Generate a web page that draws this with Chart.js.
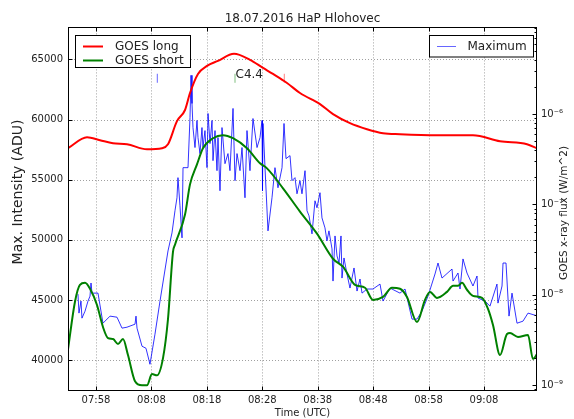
<!DOCTYPE html>
<html>
<head>
<meta charset="utf-8">
<script src="https://cdn.jsdelivr.net/npm/chart.js@4.4.0/dist/chart.umd.min.js"></script>
<style>
html,body{margin:0;padding:0;background:#fff;}
#wrap{width:574px;height:419px;position:relative;}
</style>
</head>
<body>
<div id="wrap"><canvas id="c" width="574" height="419"></canvas></div>
<script>
// All times are minutes after 07:00 UTC
const xTickValues = [58, 68, 78, 88, 98, 108, 118, 128];
const xTickLabels = ["07:58", "08:08", "08:18", "08:28", "08:38", "08:48", "08:58", "09:08"];
const leftTickValues = [40000, 45000, 50000, 55000, 60000, 65000];
const rightTickValues = [1e-9, 1e-8, 1e-7, 1e-6];
const rightTickLabels = ["10\u207B\u2079", "10\u207B\u2078", "10\u207B\u2077", "10\u207B\u2076"];

// GOES long (1-8 A) flux, W/m^2
const longTimes = [52.95, 56.38, 58.72, 61.07, 63.59, 67.20, 69.91, 70.99, 72.61, 74.06, 74.96, 76.40, 78.03, 80.01, 82.90, 85.78, 88.13, 89.93, 92.46, 94.80, 98.41, 100.76, 103.82, 106.89, 109.78, 112.84, 119.52, 126.01, 130.89, 135.76, 137.56];
const longFlux = [4.19e-7, 5.55e-7, 5.14e-7, 4.76e-7, 4.64e-7, 4.08e-7, 4.19e-7, 4.64e-7, 8.36e-7, 1.11e-6, 1.71e-6, 2.78e-6, 3.41e-6, 3.88e-6, 4.64e-6, 3.98e-6, 3.24e-6, 2.78e-6, 2.21e-6, 1.71e-6, 1.29e-6, 1.0e-6, 7.94e-7, 6.81e-7, 6.15e-7, 6.0e-7, 5.85e-7, 5.85e-7, 5.01e-7, 4.64e-7, 4.19e-7];

// GOES short (0.5-4 A) flux, W/m^2
const shortTimes = [52.95, 54.20, 55.10, 56.02, 56.92, 58.18, 59.26, 60.17, 61.07, 61.97, 62.87, 63.77, 65.04, 66.30, 67.20, 68.10, 69.01, 70.09, 70.99, 71.89, 72.25, 74.06, 74.96, 76.22, 77.30, 79.11, 80.91, 82.72, 85.24, 87.59, 88.85, 91.74, 94.80, 97.87, 100.76, 102.56, 104.73, 106.53, 107.97, 109.78, 111.40, 112.84, 114.10, 115.91, 117.35, 118.26, 119.52, 121.32, 122.41, 123.31, 124.03, 124.93, 126.01, 127.64, 128.72, 129.62, 130.89, 132.15, 132.69, 134.13, 135.94, 136.84, 137.56];
const shortFlux = [2.5e-9, 8.36e-9, 1.29e-8, 1.36e-8, 1.17e-8, 7.74e-9, 4.41e-9, 3.33e-9, 3.25e-9, 2.86e-9, 3.25e-9, 2.16e-9, 1.11e-9, 1.0e-9, 1.0e-9, 1.33e-9, 1.29e-9, 2.0e-9, 5.41e-9, 3.0e-8, 3.59e-8, 7.74e-8, 1.67e-7, 2.78e-7, 4.19e-7, 5.41e-7, 5.85e-7, 5.41e-7, 4.19e-7, 2.86e-7, 2.51e-7, 1.51e-7, 8.36e-8, 4.76e-8, 2.51e-8, 2.05e-8, 1.29e-8, 1.2e-8, 8.8e-9, 9.5e-9, 1.2e-8, 1.17e-8, 9.5e-9, 5.0e-9, 8.8e-9, 1.08e-8, 9.26e-9, 1.08e-8, 1.26e-8, 1.26e-8, 1.36e-8, 1.14e-8, 9.75e-9, 9.26e-9, 6.99e-9, 4.64e-9, 2.16e-9, 3.69e-9, 3.78e-9, 3.42e-9, 3.59e-9, 1.95e-9, 2.21e-9];

// Maximum intensity, ADU
const maxTimes = [54.75, 54.93, 55.29, 55.47, 56.02, 56.56, 56.92, 57.10, 57.28, 58.36, 59.26, 60.53, 61.79, 62.69, 63.59, 65.04, 65.22, 65.40, 66.30, 67.02, 67.74, 68.64, 69.55, 70.99, 71.71, 72.25, 72.61, 72.79, 73.15, 73.52, 73.70, 74.60, 74.96, 75.14, 75.32, 75.50, 75.86, 76.22, 76.40, 76.76, 77.12, 77.30, 77.66, 78.03, 78.21, 78.57, 78.93, 79.11, 79.47, 79.83, 80.01, 80.37, 80.73, 81.27, 81.81, 82.17, 82.72, 83.08, 83.44, 83.98, 84.34, 84.88, 85.24, 85.78, 86.32, 87.05, 87.59, 87.95, 88.04, 88.13, 88.49, 89.03, 89.75, 90.29, 90.83, 91.56, 91.92, 92.28, 93.00, 93.36, 93.90, 94.26, 94.80, 95.16, 95.71, 96.07, 96.43, 96.97, 97.51, 97.87, 98.41, 98.77, 99.31, 99.67, 100.03, 100.58, 100.76, 101.12, 101.48, 101.84, 102.20, 102.38, 102.74, 103.28, 103.82, 104.55, 105.09, 105.63, 105.99, 106.89, 107.97, 109.24, 109.78, 111.04, 112.84, 113.75, 115.01, 115.91, 116.81, 117.90, 119.16, 119.70, 120.42, 122.23, 122.41, 123.31, 123.67, 124.21, 124.93, 126.01, 126.74, 126.92, 128.18, 129.08, 130.34, 130.52, 131.25, 131.43, 131.97, 132.51, 133.05, 133.95, 135.03, 135.94, 137.74];
const maxValues = [45500, 43920, 44920, 43500, 44080, 44920, 45330, 46420, 45580, 45580, 43080, 43670, 43580, 42670, 42750, 43000, 43670, 42670, 41170, 41000, 39670, 42170, 44920, 49080, 50580, 52420, 53500, 55170, 52830, 50170, 56000, 56000, 60170, 63670, 61330, 59330, 57670, 59920, 58500, 57170, 59330, 57670, 59080, 56000, 60500, 58000, 59920, 56580, 59080, 55750, 58500, 54080, 59330, 56330, 57170, 55750, 60920, 54920, 57170, 55750, 57670, 53500, 59080, 55750, 60080, 57670, 58500, 59920, 54080, 59670, 56000, 50750, 53500, 56000, 54330, 56000, 59670, 56750, 57000, 54920, 55170, 53830, 54920, 53830, 55750, 52420, 52000, 50500, 53250, 52670, 53920, 51830, 51000, 49920, 50750, 49250, 46580, 50330, 48670, 48080, 50330, 46830, 48500, 47170, 46000, 47670, 45750, 46750, 45580, 45920, 45920, 46330, 44920, 46000, 45580, 45920, 43420, 43420, 44080, 45330, 47170, 48080, 46830, 47580, 46580, 47250, 45920, 48420, 47250, 46170, 47000, 45170, 44920, 44500, 46330, 44750, 46170, 48080, 48080, 43670, 45580, 43080, 43250, 43920, 43670];

// Flare: start, peak, end times and class
const flareTimes = [69.06, 83.08, 91.97];
const flareColors = ["rgba(0,0,255,0.6)", "rgba(0,128,0,0.5)", "rgba(255,0,0,0.5)"];
const flareLabel = "C4.4";
const markerRange = [63050, 63800];

const FONT = "DejaVu Sans";
const TXT = "#222";

function pts(t, v) { return t.map((tt, i) => ({x: tt, y: v[i]})); }

const datasets = [
  {label: "GOES long", data: pts(longTimes, longFlux), yAxisID: "y2", borderColor: "#ff0000", borderWidth: 2, pointRadius: 0, cubicInterpolationMode: "monotone", fill: false},
  {label: "GOES short", data: pts(shortTimes, shortFlux), yAxisID: "y2", borderColor: "#008000", borderWidth: 2, pointRadius: 0, cubicInterpolationMode: "monotone", fill: false}
];
flareTimes.forEach((t, i) => {
  datasets.push({label: "marker" + i, data: [{x: t, y: markerRange[0]}, {x: t, y: markerRange[1]}], yAxisID: "y", borderColor: flareColors[i], borderWidth: 1, pointRadius: 0, fill: false});
});
datasets.push({label: "Maximum", data: pts(maxTimes, maxValues), yAxisID: "y", borderColor: "rgba(0,0,255,0.8)", borderWidth: 1, pointRadius: 0, tension: 0, fill: false});

const decor = {
  id: "decor",
  beforeDatasetsDraw(chart) {
    const {ctx, chartArea: a, scales} = chart;
    ctx.save();
    ctx.strokeStyle = "#a0a0a0";
    ctx.lineWidth = 1;
    ctx.setLineDash([1, 2]);
    ctx.beginPath();
    xTickValues.forEach(v => {
      const px = Math.round(scales.x.getPixelForValue(v)) + 0.5;
      ctx.moveTo(px, a.top); ctx.lineTo(px, a.bottom);
    });
    leftTickValues.forEach(v => {
      const py = Math.round(scales.y.getPixelForValue(v)) + 0.5;
      ctx.moveTo(a.left, py); ctx.lineTo(a.right, py);
    });
    ctx.stroke();
    ctx.restore();
  },
  afterDatasetsDraw(chart) {
    const {ctx, chartArea: a, scales} = chart;
    ctx.save();
    ctx.strokeStyle = "#000";
    ctx.lineWidth = 1;
    ctx.setLineDash([]);
    const L = Math.round(a.left) + 0.5, R = Math.round(a.right) - 0.5, T = Math.round(a.top) + 0.5, B = Math.round(a.bottom) - 0.5;
    ctx.strokeRect(L, T, R - L, B - T);
    ctx.beginPath();
    xTickValues.forEach(v => {
      const px = Math.round(scales.x.getPixelForValue(v)) + 0.5;
      ctx.moveTo(px, B); ctx.lineTo(px, B - 4);
      ctx.moveTo(px, T); ctx.lineTo(px, T + 4);
    });
    leftTickValues.forEach(v => {
      const py = Math.round(scales.y.getPixelForValue(v)) + 0.5;
      ctx.moveTo(L, py); ctx.lineTo(L + 4, py);
    });
    for (let n = -10; n <= -5; n++) {
      for (let k = 1; k <= 9; k++) {
        const val = k * Math.pow(10, n);
        if (val < scales.y2.min || val > scales.y2.max) continue;
        const py = Math.round(scales.y2.getPixelForValue(val)) + 0.5;
        const len = k === 1 ? 4 : 2;
        ctx.moveTo(R, py); ctx.lineTo(R - len, py);
      }
    }
    ctx.stroke();

    ctx.fillStyle = TXT;
    ctx.font = "12px '" + FONT + "'";
    ctx.textBaseline = "middle";
    ctx.textAlign = "left";
    ctx.fillText(flareLabel, scales.x.getPixelForValue(flareTimes[1]) + 0.5, scales.y.getPixelForValue(markerRange[1]) + 1);

    ctx.fillStyle = "#fff";
    ctx.fillRect(75.5, 35.5, 115, 32);
    ctx.strokeStyle = "#000";
    ctx.strokeRect(75.5, 35.5, 115, 32);
    ctx.fillRect(429.5, 35.5, 104, 21.5);
    ctx.strokeRect(429.5, 35.5, 104, 21.5);
    ctx.lineWidth = 2;
    ctx.strokeStyle = "#ff0000";
    ctx.beginPath(); ctx.moveTo(83, 46.5); ctx.lineTo(103, 46.5); ctx.stroke();
    ctx.strokeStyle = "#008000";
    ctx.beginPath(); ctx.moveTo(83, 60.5); ctx.lineTo(103, 60.5); ctx.stroke();
    ctx.lineWidth = 1;
    ctx.strokeStyle = "rgba(0,0,255,0.6)";
    ctx.beginPath(); ctx.moveTo(437, 46.5); ctx.lineTo(456, 46.5); ctx.stroke();
    ctx.fillStyle = TXT;
    ctx.fillText("GOES long", 115, 46.5);
    ctx.fillText("GOES short", 115, 60.5);
    ctx.fillText("Maximum", 467.5, 46.5);

    ctx.textAlign = "center";
    ctx.save();
    ctx.translate(18, 192);
    ctx.rotate(-Math.PI / 2);
    ctx.font = "14px '" + FONT + "'";
    ctx.fillText("Max. Intensity (ADU)", 0, 0);
    ctx.restore();
    ctx.save();
    ctx.translate(564, 213);
    ctx.rotate(-Math.PI / 2);
    ctx.font = "10.5px '" + FONT + "'";
    ctx.fillText("GOES x-ray flux (W/m^2)", 0, 0);
    ctx.restore();
    ctx.restore();
  }
};

new Chart(document.getElementById("c"), {
  type: "line",
  data: {datasets},
  plugins: [decor],
  options: {
    responsive: false,
    animation: false,
    devicePixelRatio: 1,
    layout: {padding: 0},
    plugins: {
      legend: {display: false},
      tooltip: {enabled: false},
      title: {display: true, text: "18.07.2016 HaP Hlohovec", color: TXT, font: {family: FONT, size: 12, weight: "normal"}, padding: {top: 12, bottom: 1}, fullSize: false}
    },
    scales: {
      x: {
        type: "linear", position: "bottom", min: 52.95, max: 137.56,
        grid: {display: false, drawTicks: false}, border: {display: false},
        afterBuildTicks: s => { s.ticks = xTickValues.map(v => ({value: v})); },
        afterFit: s => { s.height = 28; },
        ticks: {autoSkip: false, maxRotation: 0, padding: 3, color: TXT, font: {family: FONT, size: 10},
          callback: (v, i) => xTickLabels[i]},
        title: {display: true, text: "Time (UTC)", color: TXT, font: {family: FONT, size: 10}, padding: {top: 0, bottom: 0}}
      },
      y: {
        type: "linear", position: "left", min: 37450, max: 67650,
        grid: {display: false, drawTicks: false}, border: {display: false},
        afterBuildTicks: s => { s.ticks = leftTickValues.map(v => ({value: v})); },
        afterFit: s => { s.width = 68; },
        ticks: {padding: 5, color: TXT, font: {family: FONT, size: 10}, callback: v => String(v)}
      },
      y2: {
        type: "logarithmic", position: "right", min: Math.pow(10, -9.063), max: Math.pow(10, -5.041),
        grid: {display: false, drawTicks: false}, border: {display: false},
        afterBuildTicks: s => { s.ticks = rightTickValues.map(v => ({value: v})); },
        afterFit: s => { s.width = 37; },
        ticks: {padding: 4, color: TXT, font: {family: FONT, size: 10}, callback: (v, i) => rightTickLabels[i]}
      }
    }
  }
});
</script>
</body>
</html>
